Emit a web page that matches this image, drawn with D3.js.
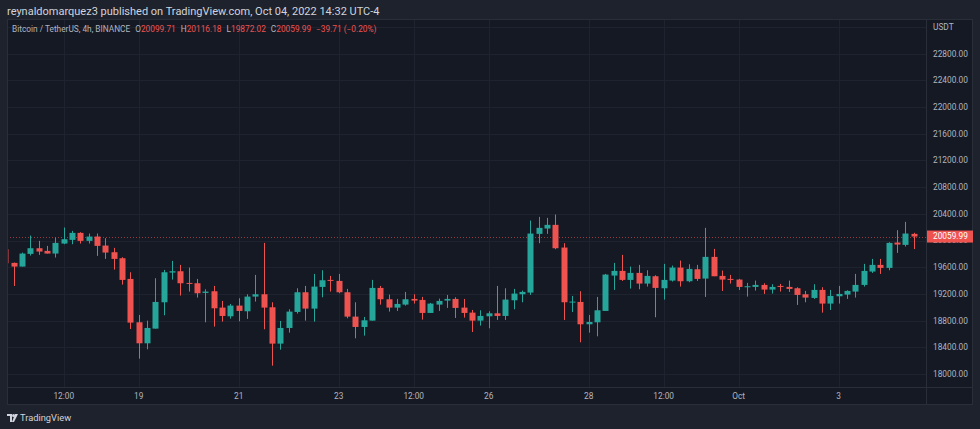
<!DOCTYPE html>
<html>
<head>
<meta charset="utf-8">
<script src="https://cdn.jsdelivr.net/npm/d3@7"></script>
<style>
  html, body { margin: 0; padding: 0; background: #1e222d; }
  #chart { width: 980px; height: 429px; }
  text { font-family: Roboto, "Noto Sans", sans-serif; }
</style>
</head>
<body>
<div id="chart"></div>
<script>
/* ______________________________Data______________________________ */
// BTC/USDT 4h candles, first bar Sep 16 08:00, one bar every 4 hours
const startTime = Date.UTC(2022, 8, 16, 8)
const barHours = 4

const opens = [19870, 19665, 19610, 19800, 19885, 19845, 19805, 19955, 20010, 20115,
  19995, 20060, 19925, 19825, 19735, 19425, 18775, 18460, 18680, 19075,
  19520, 19540, 19365, 19360, 19215, 19240, 18995, 18865, 19025, 18940,
  19160, 19195, 19000, 18455, 18690, 18930, 19225, 18980, 19305, 19410,
  19395, 19225, 18860, 18705, 18800, 19290, 19120, 18995, 19040, 19125,
  19110, 18915, 19040, 19100, 19125, 18995, 18920, 18800, 18865, 18910,
  18870, 19105, 19195, 19220, 20100, 20180, 20235, 19895, 19070, 19080,
  18745, 18775, 18945, 19475, 19545, 19410, 19515, 19355, 19465, 19285,
  19400, 19595, 19390, 19570, 19430, 19755, 19470, 19425, 19415, 19300,
  19305, 19335, 19265, 19320, 19305, 19285, 19195, 19140, 19260, 19055,
  19165, 19190, 19235, 19335, 19535, 19635, 19590, 19970, 19935, 20099.71]
const highs = [19900, 19670, 19820, 20075, 19995, 19920, 20045, 20195, 20145, 20125,
  20105, 20105, 20035, 19890, 19750, 19525, 18885, 18800, 19435, 19560,
  19695, 19635, 19595, 19425, 19270, 19320, 19095, 19050, 19135, 19195,
  19485, 19965, 19075, 18795, 18970, 19285, 19320, 19500, 19555, 19470,
  19500, 19275, 19075, 18855, 19410, 19320, 19190, 19125, 19230, 19195,
  19155, 19065, 19130, 19185, 19150, 19125, 18960, 18955, 18940, 19320,
  19285, 19275, 19250, 20300, 20355, 20340, 20390, 19960, 19170, 19240,
  18885, 19155, 19500, 19665, 19785, 19610, 19635, 19555, 19480, 19650,
  19625, 19700, 19645, 19635, 20190, 19875, 19550, 19485, 19425, 19365,
  19400, 19360, 19345, 19350, 19400, 19300, 19245, 19345, 19300, 19260,
  19320, 19255, 19500, 19650, 19725, 19725, 19975, 20155, 20280, 20116.18]
const lows = [19640, 19320, 19610, 19775, 19785, 19805, 19745, 19945, 19945, 19955,
  19955, 19770, 19725, 19565, 19340, 18675, 18230, 18370, 18680, 18880,
  19415, 19175, 19235, 19145, 18775, 18710, 18785, 18830, 18790, 18825,
  19085, 18670, 18125, 18365, 18620, 18905, 18800, 18785, 19150, 19235,
  19210, 18835, 18535, 18575, 18800, 19040, 18935, 18945, 19025, 19055,
  18815, 18915, 18945, 18990, 18840, 18845, 18630, 18725, 18685, 18810,
  18810, 18970, 19075, 19185, 19960, 20100, 19870, 18810, 18930, 18475,
  18620, 18565, 18945, 19260, 19395, 19280, 19270, 19310, 18850, 19115,
  19385, 19310, 19375, 19395, 19155, 19465, 19245, 19355, 19260, 19160,
  19250, 19200, 19205, 19235, 19230, 19035, 19075, 19125, 18920, 18960,
  19055, 19125, 19145, 19310, 19515, 19500, 19555, 19815, 19910, 19872.02]
const closes = [19660, 19610, 19805, 19885, 19835, 19805, 19965, 20020, 20115, 19995,
  20060, 19920, 19820, 19725, 19410, 18770, 18460, 18690, 19080, 19525,
  19540, 19360, 19355, 19210, 19235, 18985, 18870, 19025, 18945, 19160,
  19195, 18995, 18455, 18690, 18935, 19225, 18980, 19310, 19405, 19395,
  19225, 18860, 18705, 18805, 19290, 19120, 18995, 19050, 19120, 19100,
  18915, 19055, 19095, 19125, 18990, 18915, 18800, 18870, 18910, 18870,
  19115, 19205, 19230, 20105, 20190, 20235, 19885, 19075, 19085, 18745,
  18780, 18955, 19490, 19545, 19410, 19515, 19355, 19470, 19290, 19410,
  19595, 19390, 19575, 19425, 19755, 19465, 19415, 19410, 19305, 19315,
  19335, 19265, 19305, 19305, 19275, 19185, 19145, 19260, 19055, 19170,
  19200, 19245, 19335, 19545, 19635, 19590, 19965, 19940, 20105, 20059.99]

const priceTicks = [18000, 18400, 18800, 19200, 19600, 20000, 20400, 20800, 21200, 21600, 22000, 22400, 22800]
const timeTicks = [Date.UTC(2022, 8, 17, 12), Date.UTC(2022, 8, 19), Date.UTC(2022, 8, 21), Date.UTC(2022, 8, 23),
  Date.UTC(2022, 8, 24, 12), Date.UTC(2022, 8, 26), Date.UTC(2022, 8, 28), Date.UTC(2022, 8, 29, 12),
  Date.UTC(2022, 9, 1), Date.UTC(2022, 9, 3)]
const timeLabels = ["12:00", "19", "21", "23", "12:00", "26", "28", "12:00", "Oct", "3"]

const lastPrice = 20059.99
const priceChange = -39.71
const pctChange = -0.20
const titleText = "reynaldomarquez3 published on TradingView.com, Oct 04, 2022 14:32 UTC-4"
const legendName = "Bitcoin / TetherUS, 4h, BINANCE"

/* ______________________________Set-Up______________________________ */
const width = 980, height = 429
const panel = { left: 7, top: 19, right: 973, bottom: 405 }
const plot = { left: 7, top: 19, right: 926, bottom: 387 }

const upColor = "#26a69a"
const downColor = "#ef5350"
const textColor = "#b2b5be"
const gridColor = "#1f2330"
const borderColor = "#2a2e39"
const smallFont = "8.3px"

const candles = opens.map(function (o, i) {
  return { t: new Date(startTime + i * barHours * 3600e3), o: o, h: highs[i], l: lows[i], c: closes[i] }
})

const x = d3.scaleUtc()
  .domain([new Date(startTime), new Date(startTime + (candles.length - 1) * barHours * 3600e3)])
  .range([5.4, 913.7])

const y = d3.scaleLinear()
  .domain([18000, 22800])
  .range([374, 53.7])

const bodyWidth = 6

const svg = d3.select("#chart")
  .append("svg")
  .attr("width", width)
  .attr("height", height)

svg.append("rect").attr("width", width).attr("height", height).attr("fill", "#1e222d")

// title
svg.append("text")
  .attr("x", 7).attr("y", 11)
  .attr("dy", "0.35em")
  .attr("fill", "#d1d4dc")
  .style("font-size", "11px")
  .text(titleText)

// chart panel
svg.append("rect")
  .attr("x", panel.left + 0.5).attr("y", panel.top + 0.5)
  .attr("width", panel.right - panel.left - 1).attr("height", panel.bottom - panel.top - 1)
  .attr("fill", "#151924")
  .attr("stroke", borderColor)

svg.append("defs").append("clipPath").attr("id", "plotClip")
  .append("rect")
  .attr("x", plot.left + 1).attr("y", plot.top + 1)
  .attr("width", plot.right - plot.left - 1).attr("height", plot.bottom - plot.top - 1)

/* ______________________________Grid______________________________ */
const grid = svg.append("g").attr("clip-path", "url(#plotClip)")

grid.selectAll("line.h")
  .data(priceTicks.concat([23200]))
  .enter().append("line")
  .attr("x1", plot.left).attr("x2", plot.right)
  .attr("y1", function (d) { return Math.round(y(d)) + 0.5 })
  .attr("y2", function (d) { return Math.round(y(d)) + 0.5 })
  .attr("stroke", gridColor)

grid.selectAll("line.v")
  .data(timeTicks)
  .enter().append("line")
  .attr("y1", plot.top).attr("y2", plot.bottom)
  .attr("x1", function (d) { return Math.round(x(d)) + 0.5 })
  .attr("x2", function (d) { return Math.round(x(d)) + 0.5 })
  .attr("stroke", gridColor)

// axis separators
svg.append("line")
  .attr("x1", plot.right + 0.5).attr("x2", plot.right + 0.5)
  .attr("y1", panel.top).attr("y2", panel.bottom)
  .attr("stroke", borderColor)
svg.append("line")
  .attr("x1", panel.left).attr("x2", panel.right)
  .attr("y1", plot.bottom + 0.5).attr("y2", plot.bottom + 0.5)
  .attr("stroke", borderColor)

/* ______________________________Candles______________________________ */
const bars = svg.append("g").attr("clip-path", "url(#plotClip)")

// last price line
bars.append("line")
  .attr("x1", plot.left).attr("x2", plot.right)
  .attr("y1", Math.round(y(lastPrice)) + 0.5).attr("y2", Math.round(y(lastPrice)) + 0.5)
  .attr("stroke", downColor)
  .attr("stroke-opacity", 0.6)
  .attr("stroke-dasharray", "1,2")

const candle = bars.selectAll("g.candle")
  .data(candles)
  .enter().append("g")
  .attr("class", "candle")

candle.append("line")
  .attr("x1", function (d) { return Math.round(x(d.t)) + 0.5 })
  .attr("x2", function (d) { return Math.round(x(d.t)) + 0.5 })
  .attr("y1", function (d) { return y(d.h) })
  .attr("y2", function (d) { return y(d.l) })
  .attr("stroke", function (d) { return d.c >= d.o ? upColor : downColor })

candle.append("rect")
  .attr("x", function (d) { return Math.round(x(d.t)) + 0.5 - bodyWidth / 2 })
  .attr("width", bodyWidth)
  .attr("y", function (d) { return y(Math.max(d.o, d.c)) })
  .attr("height", function (d) { return Math.max(1, Math.abs(y(d.o) - y(d.c))) })
  .attr("fill", function (d) { return d.c >= d.o ? upColor : downColor })

/* ______________________________Axes______________________________ */
svg.append("text")
  .attr("x", 933).attr("y", 27).attr("dy", "0.35em")
  .attr("fill", textColor).style("font-size", smallFont)
  .text("USDT")

// 20000 sits under the price tag, only its lower part shows
svg.selectAll("text.price")
  .data(priceTicks)
  .enter().append("text")
  .attr("class", "price")
  .attr("x", 933)
  .attr("y", function (d) { return y(d) })
  .attr("dy", "0.35em")
  .attr("fill", textColor)
  .style("font-size", smallFont)
  .text(function (d) { return d3.format(".2f")(d) })

// last price tag
svg.append("rect")
  .attr("x", plot.right + 1).attr("y", y(lastPrice) - 6)
  .attr("width", panel.right - plot.right - 1).attr("height", 12)
  .attr("fill", downColor)
svg.append("text")
  .attr("x", 933).attr("y", y(lastPrice)).attr("dy", "0.35em")
  .attr("fill", "#ffffff").style("font-size", smallFont)
  .text(d3.format(".2f")(lastPrice))

svg.selectAll("text.time")
  .data(timeTicks)
  .enter().append("text")
  .attr("class", "time")
  .attr("x", function (d) { return x(d) })
  .attr("y", 396)
  .attr("dy", "0.35em")
  .attr("text-anchor", "middle")
  .attr("fill", textColor)
  .style("font-size", smallFont)
  .text(function (d, i) { return timeLabels[i] })

/* ______________________________Legend______________________________ */
const legend = svg.append("text")
  .attr("x", 12).attr("y", 29).attr("dy", "0.35em")
  .style("font-size", smallFont)
  .attr("fill", textColor)
const last = candles[candles.length - 1]
legend.append("tspan").text(legendName)
const parts = [["O", last.o], ["H", last.h], ["L", last.l], ["C", last.c]]
parts.forEach(function (p, i) {
  legend.append("tspan").attr("dx", 5).attr("fill", textColor).text(p[0])
  legend.append("tspan").attr("fill", downColor).text(d3.format(".2f")(p[1]))
})
legend.append("tspan").attr("dx", 5).attr("fill", downColor)
  .text(d3.format(".2f")(priceChange).replace("-", "\u2212") + " (" + d3.format(".2f")(pctChange).replace("-", "\u2212") + "%)")

/* ______________________________Footer logo______________________________ */
const logo = svg.append("g").attr("transform", "translate(7,414)").attr("fill", "#d1d4dc")
logo.append("path").attr("d", "M0,0 H5 V8 H3 V2 H0 Z")
logo.append("circle").attr("cx", 6.5).attr("cy", 1.5).attr("r", 1.5)
logo.append("path").attr("d", "M8,0 H11 L7,8 H5 Z")
svg.append("text")
  .attr("x", 20).attr("y", 418).attr("dy", "0.35em")
  .attr("fill", "#d1d4dc")
  .style("font-size", "9.3px")
  .text("TradingView")
</script>
</body>
</html>
